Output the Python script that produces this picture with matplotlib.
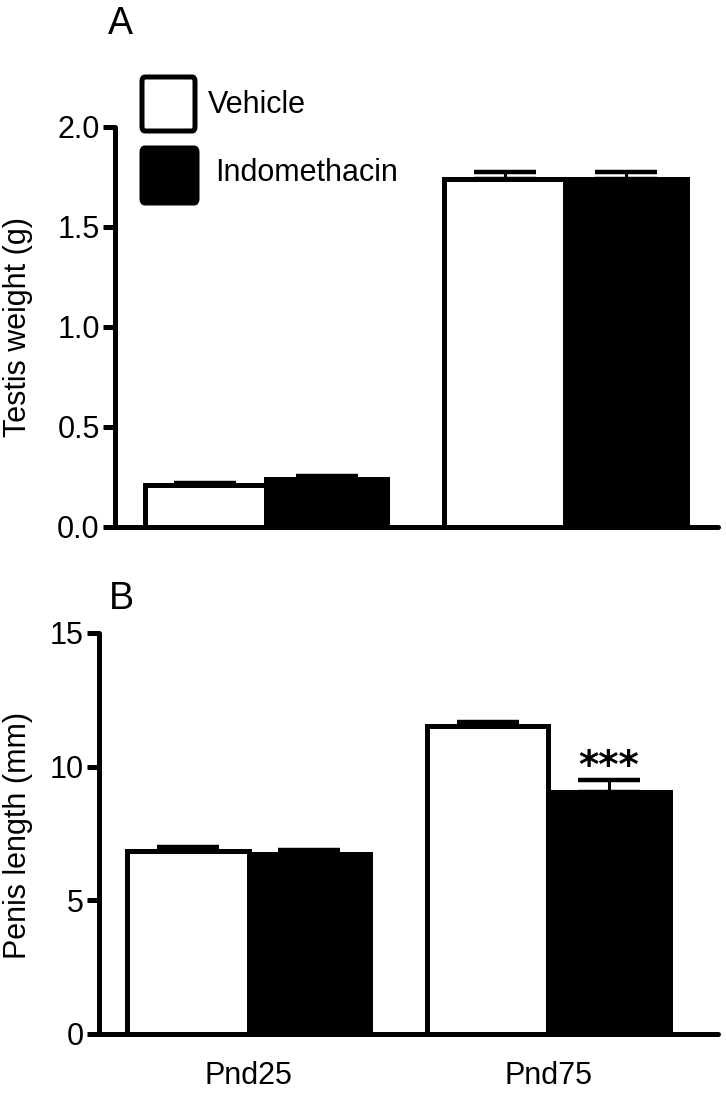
import matplotlib.pyplot as plt
from matplotlib.patches import FancyBboxPatch
import numpy as np

plt.rcParams['font.family'] = ['Liberation Sans', 'DejaVu Sans']

groups = ["Pnd25", "Pnd75"]
series = ["Vehicle", "Indomethacin"]
colors = ["white", "black"]

testis_mean = [[0.21, 1.738], [0.24, 1.738]]
testis_err = [[0.012, 0.035], [0.013, 0.037]]

penis_mean = [[6.85, 11.5], [6.72, 9.06]]
penis_err = [[0.12, 0.15], [0.14, 0.42]]

W, H = 726, 1095
fig = plt.figure(figsize=(W / 100, H / 100), dpi=100)

bar_w = 0.405
x = np.arange(len(groups))


def draw_panel(ax, means, errs, ylim, yticks, fmt):
    for i, (m, e) in enumerate(zip(means, errs)):
        pos = x + (i - 0.5) * bar_w
        ax.bar(pos, m, width=bar_w, color=colors[i], edgecolor="black",
               linewidth=3.6, zorder=2)
        ax.errorbar(pos, m, yerr=[np.zeros(len(e)), e], fmt="none",
                    ecolor="black", elinewidth=2.2, capsize=22, capthick=3.2,
                    zorder=3)
    ax.set_ylim(*ylim)
    ax.set_yticks(yticks)
    ax.set_yticklabels([fmt.format(t) for t in yticks])
    for s in ["top", "right"]:
        ax.spines[s].set_visible(False)
    for s in ["left", "bottom"]:
        ax.spines[s].set_linewidth(3.6)
        ax.spines[s].set_capstyle("round")
    ax.tick_params(axis="y", length=9, width=3.6, pad=2, labelsize=22)
    ax.tick_params(axis="x", length=0, pad=20, labelsize=22)


# Panel A
axA = fig.add_axes([115 / W, 1 - 527 / H, 603 / W, 400 / H])
draw_panel(axA, testis_mean, testis_err, (0, 2.0),
           [0, 0.5, 1.0, 1.5, 2.0], "{:.1f}")
axA.set_xlim(-0.504, 1.51)
axA.set_xticks(x)
axA.set_xticklabels([])
axA.set_ylabel("Testis weight (g)", fontsize=22)
axA.yaxis.set_label_coords(-0.136, 0.5)

# Panel B
axB = fig.add_axes([99 / W, 1 - 1033.5 / H, 619 / W, 400.5 / H])
draw_panel(axB, penis_mean, penis_err, (0, 15), [0, 5, 10, 15], "{:d}")
axB.set_xlim(-0.50, 1.566)
axB.set_xticks(x)
axB.set_xticklabels(groups)
axB.set_ylabel("Penis length (mm)", fontsize=22)
axB.yaxis.set_label_coords(-0.107, 0.494)

# significance
axB.text(x[1] + 0.5 * bar_w, 9.98, "***", ha="center", va="center",
         fontsize=28, fontweight="bold", family="DejaVu Sans")

# panel letters
fig.text(120 / W, 1 - 24 / H, "A", ha="center", va="center", fontsize=27)
fig.text(121 / W, 1 - 599 / H, "B", ha="center", va="center", fontsize=27)

# legend
for (x0, y0, x1, y1), c, label, tx, ty in [
        ((142, 77, 195, 131), "white", series[0], 208, 105),
        ((142, 148, 197, 203), "black", series[1], 215, 173)]:
    box = FancyBboxPatch((x0 / W, 1 - y1 / H), (x1 - x0) / W, (y1 - y0) / H,
                         boxstyle="round,pad=0,rounding_size=0.004",
                         transform=fig.transFigure, facecolor=c,
                         edgecolor="black", linewidth=3.6)
    fig.add_artist(box)
    fig.text(tx / W, 1 - ty / H, label, ha="left", va="center", fontsize=22)

plt.savefig("out.png", dpi=100)
